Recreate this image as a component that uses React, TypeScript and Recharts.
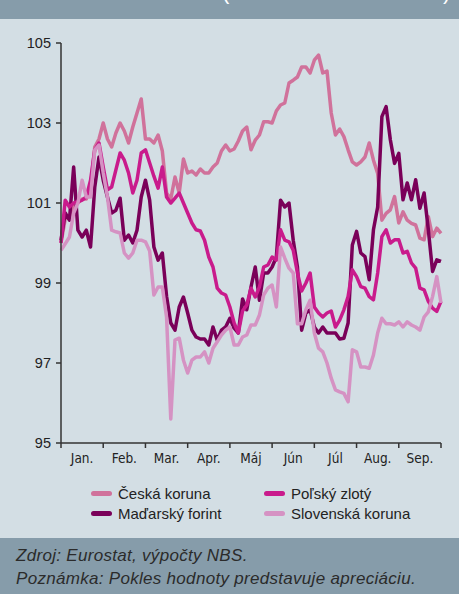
import { LineChart, Line, XAxis, YAxis } from "recharts";

const months = ["Jan.", "Feb.", "Mar.", "Apr.", "Máj", "Jún", "Júl", "Aug.", "Sep."];
const monthTicks = [0, 1, 2, 3, 4, 5, 6, 7, 8, 9];
const yTicks = [95, 97, 99, 101, 103, 105];

// index rebased to start of period = 100, sampled every ~0.1 month
const czk = [
  100.0, 100.6, 100.65, 100.9, 101.0, 101.1, 101.1, 101.4, 102.4, 102.6,
  103.0, 102.6, 102.4, 102.75, 103.0, 102.8, 102.5, 102.9, 103.25, 103.6,
  102.6, 102.6, 102.5, 102.7, 102.3, 101.25, 101.1, 101.65, 101.25, 102.1,
  101.75, 101.8, 101.7, 101.85, 101.75, 101.75, 101.9, 102.0, 102.3, 102.45,
  102.3, 102.35, 102.55, 102.8, 102.9, 102.33, 102.57, 102.7, 103.03, 103.03,
  103.0, 103.3, 103.45, 103.5, 104.0, 104.07, 104.15, 104.4, 104.4, 104.25,
  104.57, 104.7, 104.25, 104.3, 103.25, 102.7, 102.85, 102.66, 102.33, 102.03,
  101.95, 102.03, 102.15, 102.5, 102.07, 101.74, 100.57, 100.74, 100.83, 101.16,
  100.5, 100.78, 100.57, 100.49, 100.45, 100.12, 100.08, 100.66, 100.16, 100.37, 100.24,
];

const huf = [
  100.07, 100.75, 100.57, 101.9, 100.32, 100.15, 100.32, 99.9, 101.4, 102.15,
  101.57, 101.15, 100.75, 100.82, 101.12, 100.07, 100.2, 100.0, 100.32, 101.15,
  101.57, 101.07, 99.9, 99.57, 99.75, 98.67, 98.0, 97.82, 98.4, 98.65,
  98.25, 97.82, 97.65, 97.6, 97.6, 97.45, 97.9, 97.57, 97.82, 97.9,
  98.12, 97.87, 97.75, 98.6, 98.33, 98.9, 99.4, 98.57, 99.25, 99.25,
  99.4, 99.65, 101.07, 100.9, 101.0, 100.07, 99.4, 97.82, 98.25, 98.33,
  97.9, 97.75, 97.9, 97.75, 97.75, 97.75, 97.6, 97.62, 98.0, 99.95,
  100.29, 99.75, 99.66, 99.08, 100.33, 100.9, 103.16, 103.41, 102.58, 101.99,
  102.24, 101.08, 101.5, 101.08, 101.58, 100.87, 101.25, 100.33, 99.29, 99.58, 99.54,
];

const pln = [
  100.0, 101.07, 100.9, 101.0, 101.03, 101.07, 101.15, 101.57, 102.33, 102.5,
  101.9, 101.33, 101.4, 101.83, 102.25, 102.07, 101.75, 101.25, 101.57, 102.25,
  102.33, 102.0, 101.67, 101.37, 101.9, 101.15, 101.0, 101.12, 101.25, 101.0,
  100.75, 100.5, 100.33, 100.3, 100.07, 99.65, 99.4, 98.87, 98.75, 98.7,
  98.4, 98.0, 97.75, 98.3, 98.45, 98.87, 98.65, 98.9, 99.4, 99.45,
  99.65, 99.57, 100.33, 100.07, 100.03, 99.82, 99.25, 98.8, 99.0, 99.25,
  98.4, 98.25, 98.15, 98.25, 98.3, 97.9, 98.07, 98.33, 98.66, 99.33,
  99.16, 98.91, 98.87, 98.66, 98.58, 99.25, 100.16, 100.33, 100.0, 100.08,
  100.08, 99.75, 99.79, 99.5, 99.37, 98.87, 98.83, 98.54, 98.37, 98.29, 98.54,
];

const skk = [
  99.82, 99.98, 100.15, 100.75, 101.0, 101.57, 101.15, 101.15, 102.33, 102.45,
  101.75, 101.15, 100.32, 100.28, 100.25, 99.75, 99.62, 99.75, 100.07, 100.07,
  100.03, 99.8, 98.7, 98.9, 98.9, 98.15, 95.6, 97.57, 97.62, 97.07,
  96.75, 97.07, 97.15, 97.15, 97.28, 97.0, 97.37, 97.53, 97.7, 97.82,
  97.9, 97.45, 97.45, 97.65, 97.7, 97.95, 97.95, 98.2, 98.7, 98.87,
  98.95, 98.4, 99.9, 99.62, 99.37, 99.25, 97.98, 97.98, 98.33, 98.57,
  97.75, 97.37, 97.28, 97.0, 96.62, 96.33, 96.28, 96.24, 96.03, 97.33,
  97.28, 96.9, 96.9, 96.87, 97.2, 97.75, 98.12, 97.98, 97.98, 97.95,
  98.03, 97.9, 98.03, 97.95, 97.9, 97.82, 98.15, 98.28, 98.66, 99.16, 98.5,
];

const data = czk.map((v, i) => ({
  t: i / 10,
  czk: v,
  huf: huf[i],
  pln: pln[i],
  skk: skk[i],
}));

const series = [
  { key: "czk", name: "Česká koruna", color: "#d0729b" },
  { key: "huf", name: "Maďarský forint", color: "#7a0059" },
  { key: "pln", name: "Poľský zlotý", color: "#c91b8c" },
  { key: "skk", name: "Slovenská koruna", color: "#d592c3" },
];

const legendSlots = [
  { key: "czk", left: 91, top: 483 },
  { key: "pln", left: 264, top: 483 },
  { key: "huf", left: 91, top: 503 },
  { key: "skk", left: 264, top: 503 },
];

const band = "#869caa";
const plotBg = "#d3dee4";
const halfMonth = 380 / 9 / 2;

// month names sit between the tick marks
const MonthTick = ({ x, y, payload }: any) => {
  const label = months[payload.value];
  if (!label) return null;
  return (
    <text
      x={x + halfMonth}
      y={y}
      dy="0.71em"
      textAnchor="middle"
      fill="#222"
      fontSize={13.5}
      fontFamily="'Liberation Sans Narrow', 'DejaVu Sans Condensed', Arial, sans-serif"
    >
      {label}
    </text>
  );
};

export default function App() {
  return (
    <div
      style={{
        position: "absolute",
        left: 0,
        top: 0,
        width: 459,
        height: 594,
        background: plotBg,
        overflow: "hidden",
        fontFamily: "'Liberation Sans', Arial, sans-serif",
      }}
    >
      <div
        style={{
          position: "absolute",
          left: 0,
          top: 0,
          width: 459,
          height: 19,
          background: band,
          overflow: "hidden",
          color: "#fff",
          fontSize: 22,
        }}
      >
        <span style={{ position: "absolute", left: 222, top: -21 }}>(</span>
        <span style={{ position: "absolute", left: 443, top: -21 }}>)</span>
      </div>

      <div style={{ position: "absolute", left: 0, top: 19 }}>
        <LineChart
          width={459}
          height={454}
          data={data}
          margin={{ top: 24, right: 18, bottom: 0, left: 0 }}
        >
          <XAxis
            dataKey="t"
            type="number"
            domain={[0, 9]}
            ticks={monthTicks}
            interval={0}
            tick={<MonthTick />}
            tickSize={5}
            tickMargin={5}
            height={30}
            axisLine={{ stroke: "#333", strokeWidth: 1.5 }}
            tickLine={{ stroke: "#333", strokeWidth: 1.5 }}
          />
          <YAxis
            type="number"
            domain={[95, 105]}
            ticks={yTicks}
            interval={0}
            width={61}
            tickSize={5}
            tickMargin={5}
            axisLine={{ stroke: "#333", strokeWidth: 1.5 }}
            tickLine={{ stroke: "#333", strokeWidth: 1.5 }}
            tick={{ fill: "#222", fontSize: 14.5 }}
          />
          {series.map((s) => (
            <Line
              key={s.key}
              type="linear"
              dataKey={s.key}
              name={s.name}
              stroke={s.color}
              strokeWidth={3.5}
              strokeLinejoin="round"
              dot={false}
              activeDot={false}
              isAnimationActive={false}
            />
          ))}
        </LineChart>
      </div>

      {legendSlots.map((slot) => {
        const s = series.find((d) => d.key === slot.key)!;
        return (
          <div
            key={slot.key}
            style={{
              position: "absolute",
              left: slot.left,
              top: slot.top,
              height: 20,
              display: "flex",
              alignItems: "center",
              fontSize: 15,
              color: "#222",
              whiteSpace: "nowrap",
            }}
          >
            <span
              style={{
                display: "inline-block",
                width: 21,
                height: 5,
                borderRadius: 3,
                background: s.color,
                marginRight: 6,
              }}
            />
            {s.name}
          </div>
        );
      })}

      <div
        style={{
          position: "absolute",
          left: 0,
          top: 538,
          width: 459,
          height: 56,
          background: band,
          boxSizing: "border-box",
          paddingLeft: 16,
          paddingTop: 6,
          fontStyle: "italic",
          fontSize: 17,
          letterSpacing: 0.3,
          lineHeight: "23px",
          color: "#2b2b2b",
          whiteSpace: "nowrap",
        }}
      >
        <div>Zdroj: Eurostat, výpočty NBS.</div>
        <div>Poznámka: Pokles hodnoty predstavuje apreciáciu.</div>
      </div>
    </div>
  );
}
